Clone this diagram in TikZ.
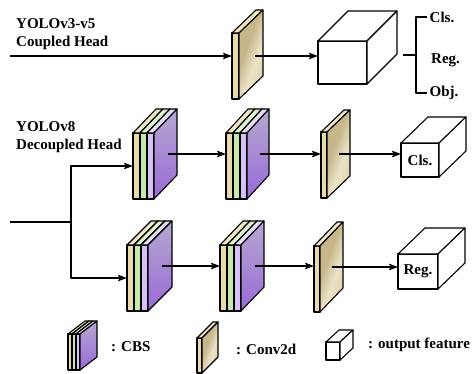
\documentclass[tikz,border=0pt]{standalone}
\usepackage{fontspec}
\setmainfont{Liberation Serif}
\usetikzlibrary{arrows.meta}

\definecolor{tanfront}{HTML}{E8DAAB}
\definecolor{tantop}{HTML}{EFE5C4}
\definecolor{tanshade}{HTML}{C7B68A}
\definecolor{tanglow}{HTML}{ECE3C7}
\definecolor{greenfront}{HTML}{C6E9AA}
\definecolor{greentop}{HTML}{DDF2CD}
\definecolor{lilacfront}{HTML}{D6C1F6}
\definecolor{lilactop}{HTML}{E7DCF9}
\definecolor{violettop}{HTML}{B5A8D0}
\definecolor{violetbottom}{HTML}{9A6AD8}

% tan side face with a light streak towards its right
\pgfdeclarehorizontalshading{tanstreak}{100bp}{color(0bp)=(tanshade);
  color(42bp)=(tanshade); color(58bp)=(tanglow); color(70bp)=(tanglow!70!tanshade);
  color(100bp)=(tanshade)}

% One thin slab: x offset, width, height, depth x, depth y, front colour, top colour, side style
\newcommand\slabpart[8]{%
  \path[outline,fill=#6] (#1,0) rectangle ({#1+#2},{-#3});
  \path[outline,fill=#7] (#1,{-#3}) -- ({#1+#2},{-#3}) -- ({#1+#2+#4},{-#3-#5}) -- ({#1+#4},{-#3-#5}) -- cycle;
  \path[outline,#8] ({#1+#2},0) -- ({#1+#2},{-#3}) -- ({#1+#2+#4},{-#3-#5}) -- ({#1+#2+#4},{-#5}) -- cycle;
}

% Conv2d plate: name, x, y (front bottom-left), width, height, depth x, depth y
\newcommand\convplate[7]{%
  \begin{scope}[shift={(#2,#3)}]
    \slabpart{0}{#4}{#5}{#6}{#7}{tanfront}{tantop}{tanside}
    \coordinate (#1-in) at (0,{-#5/2});
    \coordinate (#1-out) at ({#4+#6/2},{-#5/2-#7/2});
  \end{scope}}

% CBS block of three slabs: name, x, y (front bottom-left), slab width, height, depth x, depth y
\newcommand\cbsblock[7]{%
  \begin{scope}[shift={(#2,#3)}]
    \slabpart{0}{#4}{#5}{#6}{#7}{tanfront}{tantop}{fill=tanfront}
    \slabpart{#4}{#4}{#5}{#6}{#7}{greenfront}{greentop}{fill=greenfront}
    \slabpart{2*#4}{#4}{#5}{#6}{#7}{lilacfront}{lilactop}{violetside}
    \coordinate (#1-in) at (0,{-#5/2});
    \coordinate (#1-out) at ({3*#4+#6/2+2},{-#5/2-#7/2});
  \end{scope}}

% Output feature cube: name, x, y (front bottom-left), width, height, depth x, depth y, label
\newcommand\featbox[8]{%
  \begin{scope}[shift={(#2,#3)}]
    \slabpart{0}{#4}{#5}{#6}{#7}{white}{white}{fill=white}
    \coordinate (#1-in) at (0,{-#5/2});
    \node[lbl] (#1) at ({#4/2},{-#5/2}) {#8};
  \end{scope}}

\begin{document}
\begin{tikzpicture}[x=1pt,y=-1pt,line join=round,
  outline/.style={draw=black,line width=1.1pt},
  conn/.style={line width=1.2pt,-{Stealth[length=9pt,width=6.5pt,inset=1.5pt]}},
  wire/.style={line width=1.2pt},
  lbl/.style={font=\fontsize{15}{18}\selectfont\bfseries,inner sep=0pt,align=left},
  tanside/.style={shading=tanstreak,shading angle=-20},
  violetside/.style={top color=violettop,bottom color=violetbottom}]

\fill[white] (0,0) rectangle (472,374);
\useasboundingbox (0,0) rectangle (472,374);

% ---- coupled head ----
\node[lbl,anchor=west] (coupled) at (16,34) {YOLOv3-v5\\Coupled Head};
\convplate{convT}{232}{99}{7}{66}{24}{23}
\featbox{cubeT}{318}{84}{49}{43}{30}{30}{}
\coordinate (inT) at (10,56);
\draw[conn] (inT) -- (inT -| convT-in);
\coordinate (convTout) at (255,56);
\draw[conn] (convTout) -- (convTout -| cubeT-in);

\coordinate (forkin) at (403,55);
\coordinate (fork) at (416,55);
\node[lbl,anchor=west,inner sep=2.5pt] (cls) at (427,17) {Cls.};
\node[lbl,anchor=west] (reg) at (431,60) {Reg.};
\node[lbl,anchor=west,inner sep=2.5pt] (obj) at (427,93) {Obj.};
\draw[wire] (forkin) -- (fork);
\draw[wire] (cls.west) -| (fork) |- (obj.west);

% ---- decoupled head ----
\node[lbl,anchor=west] (decoupled) at (16,137) {YOLOv8\\Decoupled Head};
\cbsblock{cbsA}{133}{199}{7}{66}{23}{24}
\cbsblock{cbsB}{226}{199}{7}{66}{22}{24}
\convplate{convM}{321}{198}{6}{66}{23}{22}
\featbox{cubeC}{401}{177}{38}{34}{27}{26}{Cls.}

\cbsblock{cbsC}{127}{311}{7}{66}{24}{24}
\cbsblock{cbsD}{220}{311}{7}{66}{23}{24}
\convplate{convB}{314}{312}{6}{66}{23}{24}
\featbox{cubeR}{398}{289}{40}{35}{27}{26}{Reg.}

\coordinate (inD) at (10,222);
\coordinate (split) at (71,222);
\draw[wire] (inD) -- (split);
\draw[conn] (split) |- (cbsA-in);
\draw[conn] (split) |- (cbsC-in);

\draw[conn] (cbsA-out) -- (cbsA-out -| cbsB-in);
\draw[conn] (cbsB-out) -- (cbsB-out -| convM-in);
\draw[conn] (convM-out) -- (convM-out -| cubeC-in);
\draw[conn] (cbsC-out) -- (cbsC-out -| cbsD-in);
\draw[conn] (cbsD-out) -- (cbsD-out -| convB-in);
\draw[conn] (convB-out) -- (convB-out -| cubeR-in);

% ---- legend ----
\cbsblock{legCBS}{68}{370}{4}{36}{17}{13}
\node[lbl,anchor=west] (legCBStext) at (111,347) {: CBS};
\convplate{legConv}{197}{373}{5}{35}{16}{16}
\node[lbl,anchor=west] (legConvtext) at (236,349) {: Conv2d};
\featbox{legCube}{326}{360}{14}{18}{13}{12}{}
\node[lbl,anchor=west] (legCubetext) at (368,345) {: output feature};
\end{tikzpicture}
\end{document}
